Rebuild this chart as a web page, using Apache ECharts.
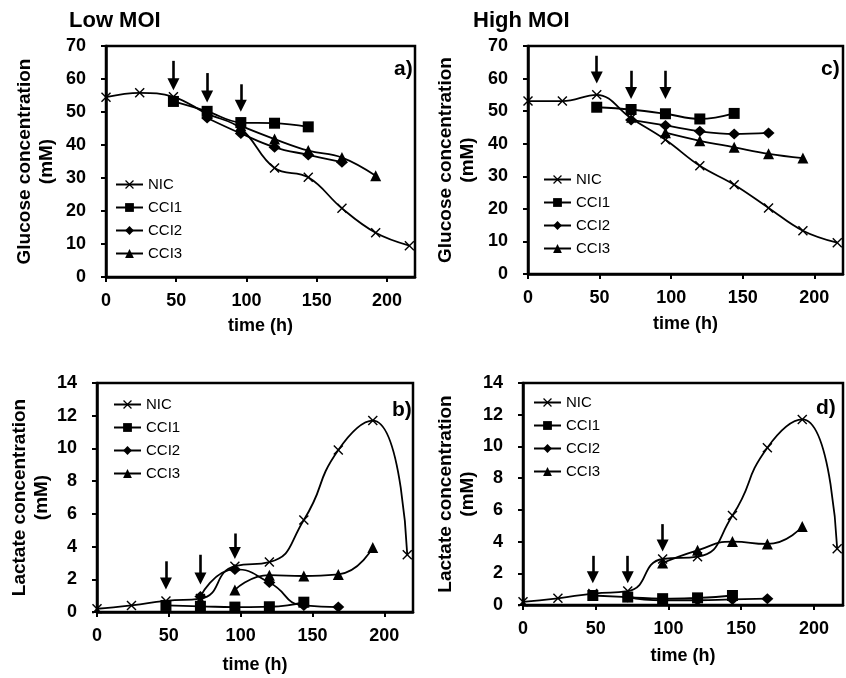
<!DOCTYPE html>
<html><head><meta charset="utf-8">
<script src="https://cdn.jsdelivr.net/npm/echarts@6/dist/echarts.min.js"></script>
<style>html,body{margin:0;padding:0;background:#fff}#c{width:846px;height:678px}</style>
</head><body><div id="c"></div>
<script>
// ---- data ----
const times = [0, 24, 48, 72, 96, 120, 144, 168, 192, 216];
const tCCI1 = [48, 72, 96, 120, 144];
const tCCI2 = [72, 96, 120, 144, 168];
const tCCI3 = [96, 120, 144, 168, 192];
const xTicks = [0, 50, 100, 150, 200];

// a) Low MOI glucose
const glucLowNIC  = [54.5, 55.8, 54.6, 49.5, 45.0, 33.0, 30.2, 20.8, 13.4, 9.5];
const glucLowCCI1 = [53.2, 50.2, 46.8, 46.6, 45.5];
const glucLowCCI2 = [48.2, 43.5, 39.3, 37.0, 34.8];
const glucLowCCI3 = [45.8, 41.8, 38.3, 36.2, 30.7];
// c) High MOI glucose
const glucHighNIC  = [53.1, 53.1, 55.0, 47.8, 41.2, 33.2, 27.4, 20.3, 13.3, 9.6];
const glucHighCCI1 = [51.2, 50.5, 49.2, 47.6, 49.3];
const glucHighCCI2 = [47.3, 45.6, 43.8, 43.0, 43.3];
const glucHighCCI3 = [43.4, 40.9, 38.9, 36.9, 35.6];
// b) Low MOI lactate
const lacLowNIC  = [0.2, 0.4, 0.68, 0.82, 2.8, 3.05, 5.62, 9.9, 11.7, 3.5];
const lacLowCCI1 = [0.4, 0.35, 0.3, 0.32, 0.6];
const lacLowCCI2 = [0.95, 2.6, 1.8, 0.4, 0.3];
const lacLowCCI3 = [1.35, 2.25, 2.2, 2.3, 3.95];
// d) High MOI lactate
const lacHighNIC  = [0.2, 0.42, 0.72, 0.88, 2.9, 3.05, 5.64, 9.92, 11.7, 3.55];
const lacHighCCI1 = [0.6, 0.5, 0.4, 0.45, 0.6];
const lacHighCCI2 = [0.5, 0.3, 0.3, 0.35, 0.4];
const lacHighCCI3 = [2.65, 3.45, 4.0, 3.85, 4.95];

// arrows (infection times), start and end values
const arrowTimes = [48, 72, 96];
const arrowGlucLowFrom = [65.5, 61.8, 58.4], arrowGlucLowTo = [58.4, 54.7, 51.9];
const arrowGlucHighFrom = [67.0, 62.4, 62.4], arrowGlucHighTo = [60.3, 55.6, 55.6];
const arrowLacLowFrom = [3.1, 3.5, 4.8], arrowLacLowTo = [1.75, 2.05, 3.6];
const arrowLacHighFrom = [3.1, 3.1, 5.1], arrowLacHighTo = [1.75, 1.75, 3.75];

const seriesNames = ['NIC', 'CCI1', 'CCI2', 'CCI3'];

// ---- layout / style ----
const FB = "'Liberation Sans',Arial,sans-serif";
const XPATH = 'path://M0,1 L1,0 L5,4 L9,0 L10,1 L6,5 L10,9 L9,10 L5,6 L1,10 L0,9 L4,5 Z';

const panels = [
  { label: 'a)', nic: glucLowNIC, c1: glucLowCCI1, c2: glucLowCCI2, c3: glucLowCCI3,
    af: arrowGlucLowFrom, at: arrowGlucLowTo, ymax: 70, yint: 10, yname: 'Glucose concentration\n(mM)',
    grid: { left: 106, top: 46, width: 309, height: 231 }, nameGapY: 48, nameGapX: 40, smooth: 0.4,
    legend: { left: 110, top: 172 }, lab: { left: 389, top: 54 } },
  { label: 'c)', nic: glucHighNIC, c1: glucHighCCI1, c2: glucHighCCI2, c3: glucHighCCI3,
    af: arrowGlucHighFrom, at: arrowGlucHighTo, ymax: 70, yint: 10, yname: 'Glucose concentration\n(mM)',
    grid: { left: 528, top: 46, width: 315, height: 228 }, nameGapY: 49, nameGapX: 41, smooth: 0.4,
    legend: { left: 538, top: 167 }, lab: { left: 816, top: 54 } },
  { label: 'b)', nic: lacLowNIC, c1: lacLowCCI1, c2: lacLowCCI2, c3: lacLowCCI3,
    af: arrowLacLowFrom, at: arrowLacLowTo, ymax: 14, yint: 2, yname: 'Lactate concentration\n(mM)',
    grid: { left: 97, top: 383, width: 316, height: 229 }, nameGapY: 40, nameGapX: 44, smooth: 0.55,
    legend: { left: 108, top: 392 }, lab: { left: 387, top: 395 } },
  { label: 'd)', nic: lacHighNIC, c1: lacHighCCI1, c2: lacHighCCI2, c3: lacHighCCI3,
    af: arrowLacHighFrom, at: arrowLacHighTo, ymax: 14, yint: 2, yname: 'Lactate concentration\n(mM)',
    grid: { left: 523, top: 383, width: 320, height: 222 }, nameGapY: 44, nameGapX: 42, smooth: 0.55,
    legend: { left: 528, top: 390 }, lab: { left: 811, top: 393 } }
];

const zip = (xs, ys) => xs.map((x, i) => [x, ys[i]]);

const option = {
  backgroundColor: '#fff',
  animation: false,
  title: [
    { text: 'Low MOI', left: 64, top: 5, textStyle: { fontFamily: FB, fontWeight: 'bold', fontSize: 22, color: '#000' } },
    { text: 'High MOI', left: 468, top: 5, textStyle: { fontFamily: FB, fontWeight: 'bold', fontSize: 22, color: '#000' } }
  ].concat(panels.map(p => ({ text: p.label, left: p.lab.left, top: p.lab.top,
    textStyle: { fontFamily: FB, fontWeight: 'bold', fontSize: 21, color: '#000' } }))),
  grid: panels.map(p => Object.assign({ show: true, borderColor: '#000', borderWidth: 2.5, containLabel: false }, p.grid)),
  legend: panels.map((p, i) => ({
    data: seriesNames.map(n => n + '|' + i),
    formatter: n => n.split('|')[0],
    orient: 'vertical', left: p.legend.left, top: p.legend.top,
    itemWidth: 27, itemHeight: 11, itemGap: 8,
    textStyle: { fontFamily: FB, fontSize: 15, color: '#000' },
    selectedMode: false
  })),
  xAxis: panels.map((p, i) => ({
    gridIndex: i, type: 'value', min: 0, max: 220, interval: 50,
    name: 'time (h)', nameLocation: 'middle', nameGap: p.nameGapX,
    nameTextStyle: { fontFamily: FB, fontWeight: 'bold', fontSize: 18, color: '#000' },
    axisLine: { lineStyle: { color: '#000', width: 2.5 } },
    axisTick: { length: 5, lineStyle: { color: '#000', width: 2 } },
    axisLabel: { color: '#000', fontFamily: FB, fontWeight: 'bold', fontSize: 18, margin: 15, showMaxLabel: false,
      formatter: v => xTicks.indexOf(v) >= 0 ? String(v) : '' },
    splitLine: { show: false }
  })),
  yAxis: panels.map((p, i) => ({
    gridIndex: i, type: 'value', min: 0, max: p.ymax, interval: p.yint,
    name: p.yname, nameLocation: 'middle', nameGap: p.nameGapY, nameRotate: 90,
    nameTextStyle: { fontFamily: FB, fontWeight: 'bold', fontSize: 19, color: '#000', lineHeight: 22 },
    axisLine: { lineStyle: { color: '#000', width: 2.5 } },
    axisTick: { length: 5, lineStyle: { color: '#000', width: 2 } },
    axisLabel: { color: '#000', fontFamily: FB, fontWeight: 'bold', fontSize: 18, margin: 20 },
    splitLine: { show: false }
  })),
  series: []
};

panels.forEach((p, i) => {
  const base = { type: 'line', xAxisIndex: i, yAxisIndex: i, smooth: p.smooth,
    lineStyle: { color: '#000', width: 1.8 }, itemStyle: { color: '#000' }, z: 3 };
  option.series.push(Object.assign({}, base, { name: 'NIC|' + i, data: zip(times, p.nic), symbol: XPATH, symbolSize: 10,
    markLine: { silent: true, symbol: ['none', 'triangle'], symbolSize: 12, label: { show: false },
      lineStyle: { color: '#000', width: 2.6, type: 'solid' },
      data: arrowTimes.map((t, k) => [{ coord: [t, p.af[k]] }, { coord: [t, p.at[k]] }]) } }));
  option.series.push(Object.assign({}, base, { name: 'CCI1|' + i, data: zip(tCCI1, p.c1), symbol: 'rect', symbolSize: 11 }));
  option.series.push(Object.assign({}, base, { name: 'CCI2|' + i, data: zip(tCCI2, p.c2), symbol: 'diamond', symbolSize: [12, 11] }));
  option.series.push(Object.assign({}, base, { name: 'CCI3|' + i, data: zip(tCCI3, p.c3), symbol: 'triangle', symbolSize: 11 }));
});

const chart = echarts.init(document.getElementById('c'), null, { renderer: 'canvas' });
chart.setOption(option);
</script>
</body></html>
